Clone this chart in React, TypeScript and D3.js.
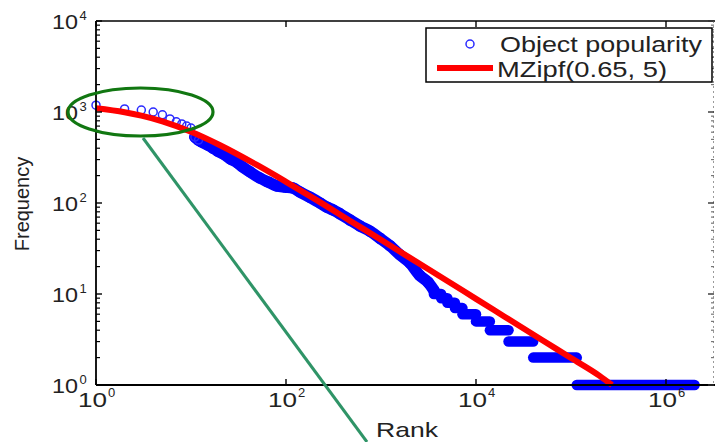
import React from 'react';
import * as d3 from 'd3';

// ---- data ----
const headRanks = [1, 2, 3, 4, 5, 6, 7, 8, 9, 10, 11, 12];
const headFreqs = [1190, 1080, 1050, 1000, 930, 840, 780, 740, 700, 667, 531, 491];

const bandRanks = [11, 12, 13, 15, 17, 19, 22, 26, 31, 35, 42, 53, 65, 80, 98, 118, 140, 178, 228, 270, 312, 370, 472, 600, 765, 975, 1240, 1580, 2010, 2560, 3120, 3600];
const bandFreqs = [531, 491, 468, 434, 402, 373, 345, 305, 275, 249, 219, 188, 170, 154, 150, 146, 132, 116, 100, 90, 84, 76, 65, 56, 49, 41, 34, 27, 22, 16, 13.5, 11];

const stepFreqs = [10, 9, 8, 7, 6, 5, 4, 3, 2, 1];
const stepStartRanks = [3600, 4300, 5000, 6000, 7200, 10000, 14000, 22000, 40000, 115000];
const stepEndRanks = [4300, 5000, 6000, 7200, 10000, 14000, 22000, 40000, 115000, 2000000];

const fitRanks = [1, 2, 3, 5, 10, 20, 50, 100, 200, 500, 1000, 2000, 5000, 10000, 20000, 50000, 100000, 200000, 270000];
const fitFreqs = [1098, 993, 911, 788, 606, 434, 260, 171, 111, 61.5, 39.4, 25.1, 13.9, 8.84, 5.63, 3.1, 1.98, 1.26, 1.0];

const xTickValues = [1, 100, 10000, 1000000];
const xTickExps = ['0', '2', '4', '6'];
const yTickValues = [1, 10, 100, 1000, 10000];
const yTickExps = ['0', '1', '2', '3', '4'];
const legendLabels = ['Object popularity', 'MZipf(0.65, 5)'];
const xLabel = 'Rank';
const yLabel = 'Frequency';

const FONT = '"Liberation Sans", Arial, Helvetica, sans-serif';

export default function App() {
  const W = 715, H = 442;
  const left = 96, right = 713, top = 21, bottom = 385;
  const x = d3.scaleLog().domain([1, 1e6]).range([96, 666]);
  const y = d3.scaleLog().domain([1, 1e4]).range([385, 21]);

  const band = bandRanks.map((r, i) => [r, bandFreqs[i]] as [number, number]);
  const fit = fitRanks.map((r, i) => [r, fitFreqs[i]] as [number, number]);
  const line = d3.line<[number, number]>().x(d => x(d[0])).y(d => y(d[1])).curve(d3.curveMonotoneX);

  const minorY: number[] = [];
  for (let e = 0; e < 4; e++) for (let m = 2; m <= 9; m++) minorY.push(m * Math.pow(10, e));

  const blue = '#0000ff';

  return (
    <svg width={W} height={H} style={{ position: 'absolute', left: 0, top: 0, background: '#fff' }} fontFamily={FONT}>
      <rect x={0} y={0} width={W} height={H} fill="#fff" />
      {/* data: band of dense markers */}
      <path d={line(band) || ''} fill="none" stroke={blue} strokeWidth={11.5} strokeLinecap="round" strokeLinejoin="round" />
      {band.map((d, i) => (
        <circle key={'b' + i} cx={x(d[0])} cy={y(d[1])} r={5} fill="none" stroke={blue} strokeWidth={1.5} />
      ))}
      {stepFreqs.map((f, i) => (
        <line key={'s' + i} x1={x(stepStartRanks[i])} x2={x(stepEndRanks[i])} y1={y(f)} y2={y(f)} stroke={blue} strokeWidth={10.5} strokeLinecap="round" />
      ))}
      {headRanks.map((r, i) => (
        <circle key={'h' + i} cx={x(r)} cy={y(headFreqs[i])} r={4} fill="none" stroke="#2a2aff" strokeWidth={1.5} />
      ))}
      {/* fitted curve */}
      <path d={line(fit) || ''} fill="none" stroke="#ff0000" strokeWidth={6} />

      {/* axes box */}
      <line x1={left} x2={715} y1={top} y2={top} stroke="#000" strokeWidth={1.6} />
      <line x1={left} x2={715} y1={bottom} y2={bottom} stroke="#000" strokeWidth={1.8} />
      <line x1={left} x2={left} y1={top} y2={bottom} stroke="#000" strokeWidth={1.8} />
      <line x1={right + 0.5} x2={right + 0.5} y1={top} y2={bottom} stroke="#9a9a9a" strokeWidth={1} strokeDasharray="2,3" />

      {/* y ticks */}
      {minorY.map((v, i) => (
        <g key={'my' + i}>
          <line x1={left} x2={left + 4} y1={y(v)} y2={y(v)} stroke="#000" strokeWidth={1.2} />
          <line x1={right - 2} x2={right + 1} y1={y(v)} y2={y(v)} stroke="#777" strokeWidth={1.2} />
        </g>
      ))}
      {yTickValues.map((v, i) => (
        <g key={'yt' + i}>
          <line x1={left} x2={left + 6} y1={y(v)} y2={y(v)} stroke="#000" strokeWidth={1.4} />
          <line x1={right - 5} x2={right + 1} y1={y(v)} y2={y(v)} stroke="#333" strokeWidth={1.4} />
          <text x={78} y={y(v) + 8} fontSize={21} textAnchor="end" fill="#222" textLength={26} lengthAdjust="spacingAndGlyphs">10</text>
          <text x={79.5} y={y(v) - 1} fontSize={13} fill="#222">{yTickExps[i]}</text>
        </g>
      ))}
      {/* x ticks */}
      {xTickValues.map((v, i) => (
        <g key={'xt' + i}>
          <line x1={x(v)} x2={x(v)} y1={bottom} y2={bottom - 6} stroke="#000" strokeWidth={1.4} />
          <line x1={x(v)} x2={x(v)} y1={top} y2={top + 6} stroke="#000" strokeWidth={1.4} />
          <text x={x(v) + 11} y={407} fontSize={21} textAnchor="end" fill="#222" textLength={29} lengthAdjust="spacingAndGlyphs">10</text>
          <text x={x(v) + 12} y={397} fontSize={13} fill="#222">{xTickExps[i]}</text>
        </g>
      ))}

      {/* axis labels */}
      <text x={407} y={437} fontSize={21} textAnchor="middle" fill="#222" textLength={62} lengthAdjust="spacingAndGlyphs">{xLabel}</text>
      <text transform="translate(29,204) rotate(-90)" fontSize={20} textAnchor="middle" fill="#222">{yLabel}</text>

      {/* legend */}
      <rect x={426} y={28} width={286} height={54} fill="#fff" stroke="#000" strokeWidth={1.5} />
      <circle cx={470} cy={44} r={4} fill="none" stroke="#2a2aff" strokeWidth={1.5} />
      <text x={500} y={52} fontSize={22} fill="#222" textLength={202} lengthAdjust="spacingAndGlyphs">{legendLabels[0]}</text>
      <line x1={437} x2={493} y1={68} y2={68} stroke="#ff0000" strokeWidth={6} />
      <text x={497} y={77} fontSize={22} fill="#222" textLength={170} lengthAdjust="spacingAndGlyphs">{legendLabels[1]}</text>

      {/* annotations */}
      <ellipse cx={140.5} cy={112} rx={72.5} ry={24} fill="none" stroke="#117711" strokeWidth={3.2} />
      <line x1={143} y1={138} x2={367} y2={442} stroke="#2f9467" strokeWidth={3} />
    </svg>
  );
}
